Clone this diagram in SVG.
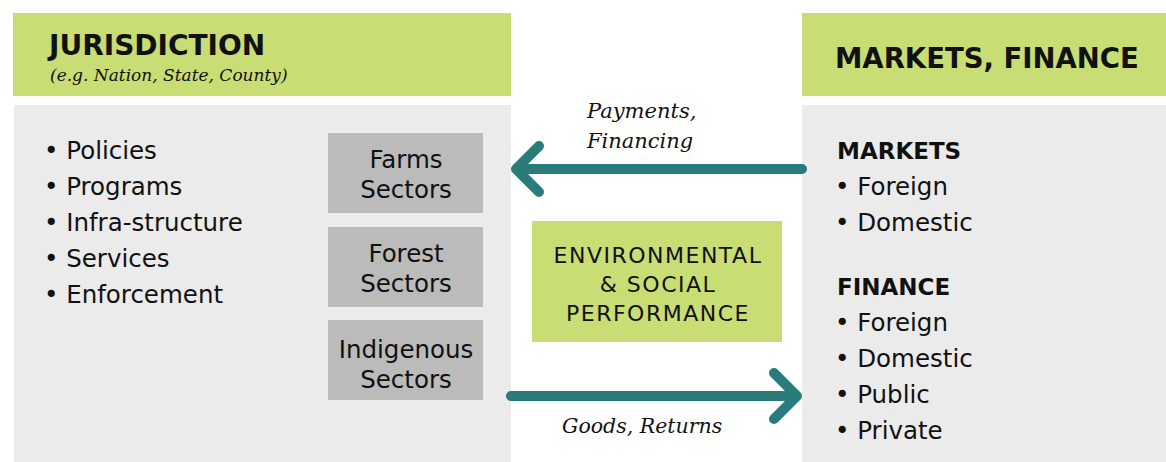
<svg xmlns="http://www.w3.org/2000/svg" width="1166" height="462" viewBox="0 0 1166 462">
<style>
.hdr{fill:#c8dd74}
.body{fill:#ebebeb}
.sec{fill:#bbbbbc}
.t{font-family:"DejaVu Sans",sans-serif;fill:#111;font-size:24.5px}
.h{font-family:"DejaVu Sans",sans-serif;font-weight:bold;fill:#111;font-size:28px}
.it{font-family:"DejaVu Serif",serif;font-style:italic;fill:#111}
.arr{stroke:#2a7c7a;stroke-width:10;fill:none;stroke-linecap:round;stroke-linejoin:round}
</style>
<rect width="1166" height="462" fill="#fff"/>
<g id="jurisdiction">
<rect class="hdr" x="13" y="13" width="498" height="83"/>
<rect class="body" x="14" y="105" width="497" height="357"/>
<text class="h" x="49" y="55">JURISDICTION</text>
<text class="it" x="50" y="81" font-size="17">(e.g. Nation, State, County)</text>
<g class="t">
<text x="44" y="159">• Policies</text>
<text x="44" y="195">• Programs</text>
<text x="44" y="231">• Infra-structure</text>
<text x="44" y="267">• Services</text>
<text x="44" y="303">• Enforcement</text>
</g>
</g>
<g id="farms">
<rect class="sec" x="328" y="133" width="155" height="80"/>
<text class="t" text-anchor="middle" x="406" y="168">Farms</text>
<text class="t" text-anchor="middle" x="406" y="198">Sectors</text>
</g>
<g id="forest">
<rect class="sec" x="328" y="227" width="155" height="80"/>
<text class="t" text-anchor="middle" x="406" y="262">Forest</text>
<text class="t" text-anchor="middle" x="406" y="292">Sectors</text>
</g>
<g id="indigenous">
<rect class="sec" x="328" y="320" width="155" height="80"/>
<text class="t" text-anchor="middle" x="406" y="358">Indigenous</text>
<text class="t" text-anchor="middle" x="406" y="388">Sectors</text>
</g>
<g id="performance">
<rect class="hdr" x="532" y="221" width="250" height="121"/>
<g class="t" text-anchor="middle" style="font-size:22px;letter-spacing:1.5px">
<text x="658" y="263">ENVIRONMENTAL</text>
<text x="658" y="292">&amp; SOCIAL</text>
<text x="658" y="321">PERFORMANCE</text>
</g>
</g>
<g id="markets">
<rect class="hdr" x="802" y="13" width="364" height="83"/>
<rect class="body" x="802" y="105" width="364" height="357"/>
<text class="h" x="835" y="68" style="font-size:27.5px">MARKETS, FINANCE</text>
<g class="t">
<text x="837" y="159" font-weight="bold" style="font-size:23px">MARKETS</text>
<text x="835" y="195">• Foreign</text>
<text x="835" y="231">• Domestic</text>
<text x="837" y="295" font-weight="bold" style="font-size:23px">FINANCE</text>
<text x="835" y="331">• Foreign</text>
<text x="835" y="367">• Domestic</text>
<text x="835" y="403">• Public</text>
<text x="835" y="439">• Private</text>
</g>
</g>
<g id="connectors">
<path class="arr" d="M802 169 H516 M539 146 L516 169 L539 192"/>
<path class="arr" d="M511 396 H797 M774 373 L797 396 L774 419"/>
<text class="it" font-size="21" x="587" y="118">Payments,</text>
<text class="it" font-size="21" x="587" y="148">Financing</text>
<text class="it" font-size="20.5" x="562" y="433">Goods, Returns</text>
</g>
</svg>
